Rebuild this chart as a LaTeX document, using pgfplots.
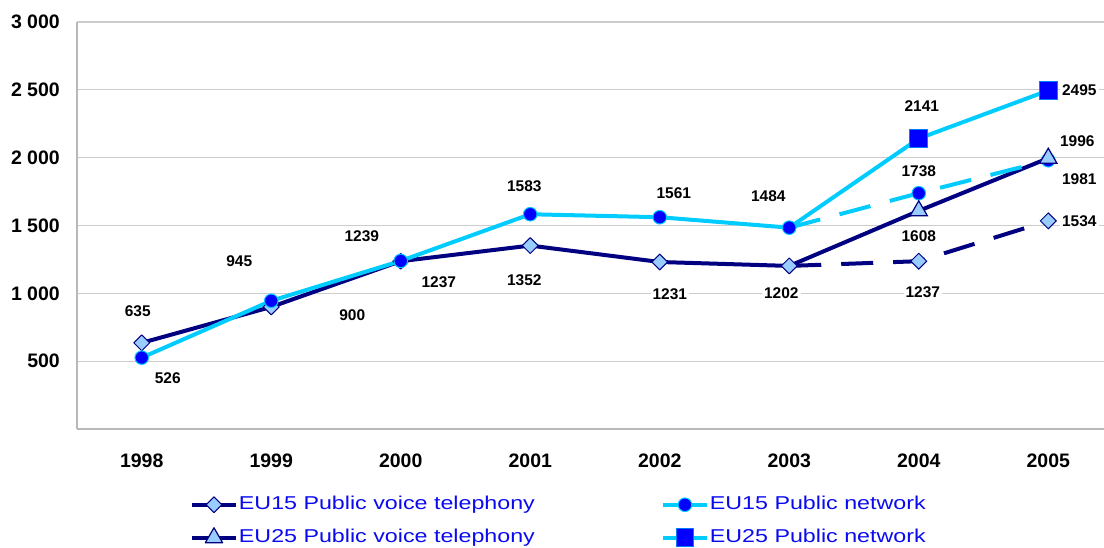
\documentclass[border=0pt]{standalone}
\usepackage{fontspec}
\setmainfont{Liberation Sans}
\newfontfamily\legendfamily{Liberation Sans}[FakeStretch=1.25]
\usepackage{pgfplots}
\usepackage{pgfplotstable}
\pgfplotsset{compat=1.18}

\definecolor{navyline}{RGB}{0,0,128}
\definecolor{cyanline}{RGB}{0,204,255}
\definecolor{markblue}{RGB}{0,0,255}
\definecolor{lightfill}{RGB}{153,204,255}
\definecolor{gridgrey}{RGB}{204,204,204}
\definecolor{axisgrey}{RGB}{185,185,185}
\definecolor{legendblue}{RGB}{10,10,240}

\newcommand\tickfont{\fontsize{19.5}{23}\selectfont\bfseries}
\newcommand\labfont{\fontsize{15.5}{18}\selectfont\bfseries}
\newcommand\legfont{\legendfamily\fontsize{18.6}{22}\selectfont}

% EU15 series, solid up to 2003 and dashed after
\pgfplotstableread{
x y
0 635
1 900
2 1237
3 1352
4 1231
5 1202
}\voicesolid
\pgfplotstableread{
x y
5 1202
6 1237
7 1534
}\voicedash
\pgfplotstableread{
x y
0 526
1 945
2 1239
3 1583
4 1561
5 1484
}\netsolid
\pgfplotstableread{
x y
5 1484
6 1738
7 1981
}\netdash
% EU25 series
\pgfplotstableread{
x y
5 1202
6 1608
7 1996
}\voicetwentyfive
\pgfplotstableread{
x y
5 1484
6 2141
7 2495
}\nettwentyfive
% data labels, offsets in pt from the point
\pgfplotstableread{
x y dx dy
0 635 -4 32
0 526 26 -21
1 945 -32 40
1 900 81 -8
2 1239 -39 25
2 1237 38 -21
3 1583 -6 28
3 1352 -6 -35
4 1561 14 24
4 1231 10 -32
5 1484 -21 32
5 1202 -8 -27
6 2141 3 32
6 1738 0 22
6 1608 0 -25
6 1237 4 -31
7 2495 31 0
7 1996 29 17
7 1981 31 -19
7 1534 31 0
}\labels

\begin{document}
\begin{tikzpicture}
\useasboundingbox (0,0) rectangle (1104pt,547pt);
\begin{axis}[
    at={(77pt,118pt)}, anchor=south west,
    scale only axis, width=1027pt, height=407pt,
    xmin=-0.5, xmax=7.43, ymin=0, ymax=3000,
    axis lines=left,
    axis line style={-, draw=axisgrey, line width=1.5pt},
    xtick={0,...,7},
    xticklabels={1998,1999,2000,2001,2002,2003,2004,2005},
    ytick={500,1000,1500,2000,2500,3000},
    yticklabels={500,1 000,1 500,2 000,2 500,3 000},
    major tick length=0pt,
    ymajorgrids,
    major grid style={gridgrey, line width=1.2pt},
    tick label style={font=\tickfont, text=black},
    xticklabel style={inner sep=0pt, yshift=-25pt},
    yticklabel style={inner sep=0pt, xshift=-17pt},
    clip=false,
    legend columns=2,
    legend cell align=left,
    legend image code/.code={
        \draw[mark repeat=2, mark phase=2] plot coordinates {(0pt,0pt) (22pt,0pt) (44pt,0pt)};
    },
    legend style={
        at={(0.110,-0.164)}, anchor=north west,
        draw=none, fill=none, inner sep=0pt, outer sep=0pt,
        row sep=14pt, font=\legfont, text=legendblue,
        nodes={inner sep=0pt, text height=14pt, text depth=4pt},
        /tikz/every odd column/.append style={column sep=1pt},
        /tikz/every even column/.append style={column sep=126pt},
    },
    voice/.style={navyline, line width=4pt, line join=round},
    net/.style={cyanline, line width=4pt, line join=round},
    dashes/.style={dash pattern=on 32pt off 20pt},
    diamondmark/.style={mark=square*, mark size=5.6pt,
        mark options={solid, rotate=45, fill=lightfill, draw=navyline, line width=1pt}},
    circlemark/.style={mark=*, mark size=6.8pt,
        mark options={solid, fill=markblue, draw=cyanline, line width=1pt}},
    trianglemark/.style={mark=triangle*, mark size=10pt,
        mark options={solid, fill=lightfill, draw=navyline, line width=1.2pt}},
    squaremark/.style={mark=square*, mark size=8.8pt,
        mark options={solid, fill=markblue, draw=cyanline!60!markblue, line width=1pt}},
]

% data labels
\addplot[only marks, mark=*, mark size=0pt, mark options={draw=none, fill=none},
    forget plot, point meta=explicit symbolic,
    visualization depends on={\thisrow{dx}\as\dx},
    visualization depends on={\thisrow{dy}\as\dy},
    nodes near coords,
    nodes near coords style={anchor=center, xshift=\dx pt, yshift=\dy pt,
        fill=white, inner sep=2pt, font=\labfont, text=black}]
    table[x=x, y=y, meta=y] {\labels};

% EU25 lines underneath
\addplot[voice, mark=none, forget plot] table {\voicetwentyfive};
\addplot[net, mark=none, forget plot] table {\nettwentyfive};

% EU15 solid part
\addplot[voice, diamondmark, forget plot] table {\voicesolid};
\addplot[net, circlemark, forget plot] table {\netsolid};

% EU15 dashed part
\addplot[voice, dashes, mark=none, forget plot] table {\voicedash};
\addplot[net, dashes, mark=none, forget plot] table {\netdash};
\addplot[only marks, diamondmark, forget plot,
    skip coords between index={0}{1}] table {\voicedash};
\addplot[only marks, circlemark, forget plot,
    skip coords between index={0}{1}] table {\netdash};

% EU25 markers on top
\addplot[only marks, trianglemark, forget plot,
    skip coords between index={0}{1}] table {\voicetwentyfive};
\addplot[only marks, squaremark, forget plot,
    skip coords between index={0}{1}] table {\nettwentyfive};

\addlegendimage{voice, diamondmark}
\addlegendentry{EU15 Public voice telephony}
\addlegendimage{net, circlemark}
\addlegendentry{EU15 Public network}
\addlegendimage{voice, trianglemark}
\addlegendentry{EU25 Public voice telephony}
\addlegendimage{net, squaremark}
\addlegendentry{EU25 Public network}
\end{axis}
\end{tikzpicture}
\end{document}
